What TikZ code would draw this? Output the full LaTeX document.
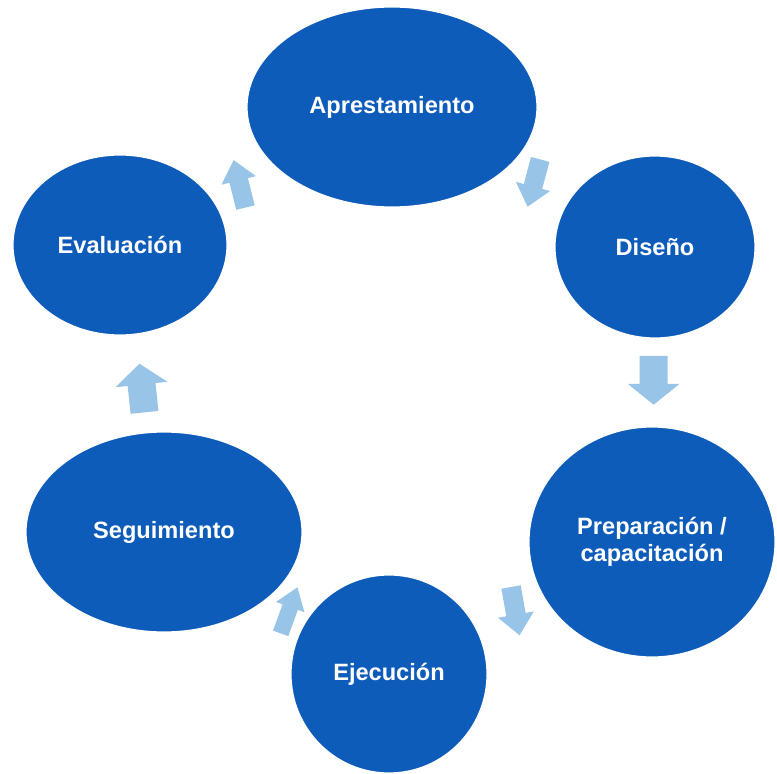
\documentclass[tikz,border=0pt]{standalone}
\usepackage{fontspec}
\setsansfont{Liberation Sans}
\usetikzlibrary{shapes.geometric, calc}

\definecolor{cycleblue}{RGB}{14,92,186}
\definecolor{arrowblue}{RGB}{152,196,232}

\tikzset{
stage/.style={ellipse, fill=cycleblue, draw=white, line width=0.6pt, text=white, inner sep=0pt, align=center, font=\sffamily\bfseries\fontsize{11.8}{13.5}\selectfont},
cyclearrow/.pic={\fill[arrowblue] (-24,-14) -- (4,-14) -- (4,-26) -- (25,0) -- (4,26) -- (4,14) -- (-24,14) -- cycle;}
}

\begin{document}
\begin{tikzpicture}[x=0.5pt, y=0.5pt]

\useasboundingbox (0,0) rectangle (777,773);

\node[stage, minimum width=145pt, minimum height=100pt] (apr) at (392,666) {Aprestamiento};
\node[stage, minimum width=100pt, minimum height=91pt] (dis) at (655,526) {Diseño};
\node[stage, minimum width=123pt, minimum height=115pt] (prep) at (652,231) {Preparación /\\capacitación};
\node[stage, minimum width=98pt, minimum height=99pt] (eje) at (389,99) {Ejecución};
\node[stage, minimum width=138pt, minimum height=100pt] (seg) at (164,241) {Seguimiento};
\node[stage, minimum width=107pt, minimum height=90pt] (eva) at (120,528) {Evaluación};

\pic[rotate=104, yscale=.68] at ($(eva)!.44!(apr)$) {cyclearrow}; %eva -> apr
\pic[rotate=255, yscale=.68] at ($(apr)!.54!(dis)$) {cyclearrow}; %apr -> dis
\pic[rotate=270] at ($(dis)!.45!(prep)$) {cyclearrow}; %dis -> prep
\pic[rotate=280, yscale=.7] at ($(prep)!.52!(eje)$) {cyclearrow}; %prep -> eje
\pic[rotate=70, yscale=.58] at ($(eje)!.445!(seg)$) {cyclearrow}; %eje -> seg
\pic[rotate=96] at ($(seg)!.5!(eva)$) {cyclearrow}; %seg -> eva

\end{tikzpicture}
\end{document}
